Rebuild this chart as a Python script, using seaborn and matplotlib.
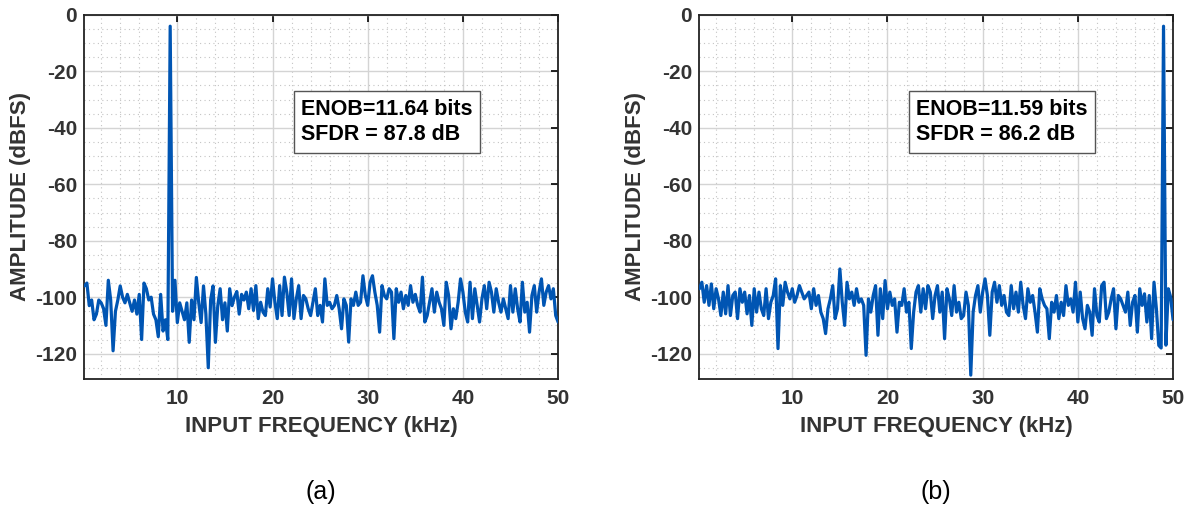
import matplotlib
matplotlib.use("Agg")
import matplotlib.pyplot as plt
from matplotlib.ticker import MultipleLocator
import numpy as np
import pandas as pd
import seaborn as sns

# FFT bin spacing (kHz), 200 bins up to 50 kHz
bin_step = 0.25
n_bins = 200

# panel (a): spectrum, dBFS
amp_a = [
    -96, -95, -103, -101, -108, -106, -101, -102, -104, -110,
    -94, -101, -119, -105, -101, -96, -100, -102, -99, -102,
    -105, -101, -106, -99, -115, -95, -97, -101, -100, -106,
    -108, -114, -99, -112, -108, -115, -4,
    -105, -94, -109, -102, -105, -108, -102, -116, -101, -108,
    -93, -102, -109, -96, -106, -125, -101, -96, -116, -103,
    -97, -108, -102, -112, -97, -103, -100, -98, -106, -99, -101,
    -98.2, -104.1, -97, -104.7, -95.9, -107.6, -101.8, -105.3, -106.5, -97,
    -103.5, -93.5, -101.8, -107.6, -95.9, -106.5, -92.9, -98.2, -106.5, -93.5,
    -107.6, -100.6, -95.9, -107.6, -99.4, -100.6, -104.1, -106.5, -101.8, -97,
    -106.5, -102.9, -108.8, -93.5, -102.9, -101.8, -104.1, -102.9, -99.4, -104.1,
    -111.2, -100.6, -102.9, -115.9, -100.6, -102.9, -98.2, -102.9, -101.8, -92.4,
    -99.4, -102.9, -94.7, -92.4, -98.2, -102.9, -112.4, -95.9, -99.4, -100.6,
    -97, -98.2, -114.7, -97, -101.8, -98.2, -104.1, -99.4, -102.9, -95.9,
    -101.8, -99,
    -102.9, -105.3, -92.9, -108.8, -106.5, -101.8, -97, -105.3, -98.2, -101.8,
    -104.1, -110, -94.7, -99.4, -111.2, -104.1, -107.6, -101.8, -93.5, -98.2,
    -105.3, -108.8, -94.7, -107.6, -97, -102.9, -108.8, -100.6, -95.9, -104.1,
    -94.7, -98.2, -105.3, -97, -101.8, -105.3, -100.6, -104.1, -107.6, -95.9,
    -105.3, -97, -104.1, -108.8, -94.7, -105.3, -101.8, -112.4, -99.4, -95.9,
    -105.3, -98.2, -93.5, -102.9, -98.2, -95.9, -100.6, -97, -106.5, -108.8,
]

# panel (b): spectrum, dBFS
amp_b = [
    -97, -94.7, -101.8, -95.9, -102.9, -95.3, -104.1, -97, -100.6, -106.5,
    -98.2, -105.9, -95.9, -106.5, -99.4, -98.2, -107.6, -97, -101.8, -98.2,
    -105.9, -99.4, -110, -97, -105.3, -98.2, -104.1, -106.5, -97, -107.6,
    -101.8, -99.4, -93.5, -118.2, -95.9, -102.9, -94.7, -98.2, -100.6, -97,
    -101.8, -99.4, -95.9, -98.2, -100.6, -99.4, -98.2, -104.1, -97, -102.9,
    -99.4, -105.3, -107.6, -112.9, -104.1, -100.6, -95.9, -107.6, -104.1, -90,
    -101.8, -110, -94.7, -100.6, -98.2, -102.9, -97, -101.8,
    -100.6, -102.9, -120.6, -100.6, -105.3, -99.4, -95.9, -113.5, -97, -107.6,
    -94.1, -104.1, -98.2, -102.9, -100.6, -112.4, -101.8, -102.9, -97, -105.3,
    -101.8, -118.2, -105.3, -98.2, -95.9, -105.3, -97, -104.1, -95.9, -98.2,
    -107.6, -99.4, -95.9, -105.3, -98.2, -114.7, -97, -100.6, -106.5, -95.9,
    -105.3, -101.8, -107.6, -106.5, -98.2, -102.9, -127.6, -105.3, -99.4, -95.9,
    -105.3, -98.2, -93.5, -99.4, -113.5, -98.2, -94.7, -101.8, -95.9, -102.9,
    -99.4, -105.3, -106.5,
    -95.9, -104.1, -98.2, -105.3, -94.7, -102.9, -107.6, -97, -101.8,
    -99.4, -105.3, -112.4, -97, -100.6, -102.9, -104.1, -114.7, -101.8, -105.3,
    -99.4, -107.6, -101.8, -106.5, -95.9, -102.9, -100.6, -105.3, -94.7, -108.8,
    -98.2, -107.6, -111.2, -102.9, -105.3, -113.5, -97, -106.5, -108.8, -95.9,
    -94.7, -107.6, -105.3, -100.6, -97, -111.2, -99.4, -100.6, -102.9, -105.3,
    -98.2, -110, -101.8, -99.4, -112.4, -97, -102.9, -98.8, -108.8, -99.4,
    -114.7, -94.7, -104.1, -117.1, -118, -4, -117, -97, -100, -108,
]

notes_a = ["ENOB=11.64 bits", "SFDR = 87.8 dB"]
notes_b = ["ENOB=11.59 bits", "SFDR = 86.2 dB"]
panel_tags = ["(a)", "(b)"]

freq = bin_step * (np.arange(n_bins) + 1)

sns.set_theme(style="white")
plt.rcParams["font.family"] = ["Liberation Sans", "DejaVu Sans"]
plt.rcParams["axes.unicode_minus"] = False

line_color = "#0055b3"
txt_color = "#333333"

fig = plt.figure(figsize=(11.92, 5.15), dpi=100)
ax_a = fig.add_axes([0.0705, 0.264, 0.3977, 0.707])
ax_b = fig.add_axes([0.5864, 0.264, 0.3977, 0.707])

for ax, amp, notes, tag in [(ax_a, amp_a, notes_a, panel_tags[0]),
                            (ax_b, amp_b, notes_b, panel_tags[1])]:
    df = pd.DataFrame({"freq": freq, "amp": amp})
    sns.lineplot(data=df, x="freq", y="amp", ax=ax, color=line_color,
                 linewidth=2.3, zorder=3)
    ax.set_xlim(0.2, 50)
    ax.set_ylim(-129, 0)
    ax.set_xticks([10, 20, 30, 40, 50])
    ax.set_yticks([0, -20, -40, -60, -80, -100, -120])
    ax.xaxis.set_minor_locator(MultipleLocator(2))
    ax.yaxis.set_minor_locator(MultipleLocator(5))
    ax.grid(which="major", color="#d4d4d4", linewidth=1.0, linestyle="-")
    ax.grid(which="minor", color="#c4c4c4", linewidth=0.8, linestyle=(0, (1, 3)))
    ax.set_axisbelow(True)
    ax.tick_params(which="major", direction="in", length=5, width=1.2,
                   top=True, right=True, labelsize=15, colors="black",
                   labelcolor=txt_color)
    ax.tick_params(axis="x", which="major", pad=7)
    ax.tick_params(axis="y", which="major", pad=5)
    ax.tick_params(which="minor", length=0)
    for lab in ax.get_xticklabels() + ax.get_yticklabels():
        lab.set_fontweight("bold")
    for sp in ax.spines.values():
        sp.set_color("#222222")
        sp.set_linewidth(1.3)
    ax.set_xlabel("INPUT FREQUENCY (kHz)", fontsize=16, fontweight="bold",
                  color=txt_color, labelpad=6)
    ax.set_ylabel("AMPLITUDE (dBFS)", fontsize=16, fontweight="bold",
                  color=txt_color, labelpad=3)
    ax.text(0.458, 0.77, "\n".join(notes), transform=ax.transAxes,
            ha="left", va="top", fontsize=15.5, fontweight="bold",
            color="black", linespacing=1.3, zorder=5,
            bbox=dict(boxstyle="square,pad=0.35", facecolor="white",
                      edgecolor="#555555", linewidth=1.0))
    ax.text(0.5, -0.31, tag, transform=ax.transAxes, ha="center",
            va="center", fontsize=18, color="black")

fig.savefig("out.png", dpi=100)
